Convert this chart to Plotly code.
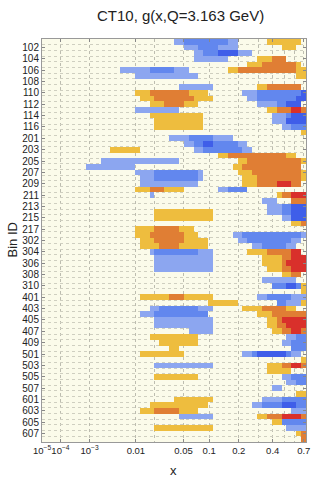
import numpy as np
import plotly.graph_objects as go

# ---------------- data ----------------
title_text = "CT10, g(x,Q=3.163 GeV)"

ids_100 = list(range(101, 118))
ids_200 = list(range(201, 218))
ids_300 = list(range(301, 312))
ids_400 = list(range(401, 411))
ids_500 = list(range(501, 509))
ids_600 = list(range(601, 609))

# x grid: columns uniform in x**0.2
x_min, x_max, n_cols, power = 1e-5, 0.727, 54, 0.2

x_tick_vals = [1e-5, 1e-4, 1e-3, 0.01, 0.05, 0.1, 0.2, 0.4, 0.7]
x_tick_text = ["10<sup>−5</sup>", "10<sup>−4</sup>", "10<sup>−3</sup>", "0.01",
               "0.05", "0.1", "0.2", "0.4", "0.7"]
x_grid_extra = [0.02, 0.3, 0.5, 0.6]

# correlation level runs per bin: (first column, end column, level)
runs_100 = [
    [(27, 29, -1), (29, 38, -2), (38, 40, -1), (46, 53, 1)],                       # 101
    [(29, 32, -1), (32, 36, -2), (36, 40, -1), (49, 52, 1)],                       # 102
    [(31, 33, -1), (33, 36, -2), (36, 40, -3), (40, 43, -1)],                      # 103
    [(31, 38, -1), (44, 47, 1), (47, 50, 2)],                                      # 104
    [(42, 45, 1), (45, 52, 2), (52, 53, 1)],                                       # 105
    [(16, 22, -1), (22, 27, -2), (27, 30, -1), (38, 40, 1), (40, 52, 2), (52, 54, 1)],  # 106
    [(19, 32, -1), (52, 54, 1)],                                                   # 107
    [],                                                                            # 108
    [(28, 35, -1), (44, 46, 1), (46, 53, 2)],                                      # 109
    [(19, 22, 1), (22, 30, 2), (30, 34, 1), (41, 44, -1), (44, 53, -2), (53, 54, -3)],  # 110
    [(20, 23, 1), (23, 31, 2), (31, 35, 1), (42, 44, -1), (44, 52, -2), (52, 54, -3)],  # 111
    [(22, 25, 1), (25, 29, 2), (29, 32, 1), (44, 48, -1), (48, 50, -2), (50, 53, -3)],  # 112
    [(19, 28, -1), (46, 48, 1), (48, 51, 2), (51, 53, 3), (53, 54, 2)],           # 113
    [(22, 33, 1), (47, 50, -1), (50, 51, -2), (51, 54, -3)],                       # 114
    [(23, 33, 1), (47, 50, -1), (50, 54, -3)],                                     # 115
    [(23, 33, 1), (49, 51, -1), (51, 54, -2)],                                     # 116
    [(53, 54, 1)],                                                                 # 117
]
runs_200 = [
    [(26, 30, -1), (30, 35, -2), (35, 39, -1)],                                    # 201
    [(29, 31, -1), (31, 33, -2), (33, 35, -3), (35, 40, -2), (40, 42, -1)],        # 202
    [(14, 20, 1), (31, 33, -1), (33, 41, -2), (41, 43, -1)],                       # 203
    [(36, 38, 1), (38, 50, 2), (50, 52, 1)],                                       # 204
    [(12, 28, -1), (40, 42, 1), (42, 53, 2), (53, 54, 1)],                         # 205
    [(9, 19, -1), (39, 41, 1), (41, 53, 2)],                                       # 206
    [(19, 23, -1), (23, 32, -2), (32, 33, -1), (40, 43, 1), (43, 53, 2), (53, 54, 1)],  # 207
    [(20, 23, -1), (23, 32, -2), (32, 33, -1), (41, 44, 1), (44, 53, 2), (53, 54, 1)],  # 208
    [(20, 32, -1), (41, 44, 1), (44, 48, 2), (48, 51, 3), (51, 53, 2)],           # 209
    [(19, 22, 1), (22, 25, 2), (25, 29, 1), (36, 38, -1), (38, 42, -2)],           # 210
    [(22, 23, -1), (48, 49, 1), (49, 51, 2), (51, 54, 3)],                         # 211
    [(45, 48, -1), (51, 54, 2)],                                                   # 212
    [(46, 49, -1), (49, 51, -2), (51, 54, -3)],                                    # 213
    [(23, 35, 1), (46, 49, -1), (49, 51, -2), (51, 54, -3)],                       # 214
    [(23, 35, 1), (49, 51, -1), (51, 54, -3)],                                     # 215
    [(51, 53, 1), (53, 54, 2)],                                                    # 216
    [(19, 23, 1), (23, 28, 2), (28, 31, 1)],                                       # 217
]
runs_300 = [
    [(19, 22, 1), (22, 29, 2), (29, 32, 1), (39, 41, -1), (41, 53, -2), (53, 54, -1)],  # 301
    [(20, 23, 1), (23, 29, 2), (29, 34, 1), (40, 42, -1), (42, 51, -2), (51, 53, -1)],  # 302
    [(20, 24, 1), (24, 28, 2), (28, 34, 1), (43, 45, -1), (45, 50, -2), (50, 52, -1)],  # 303
    [(22, 23, -1), (23, 32, -2), (32, 35, -1), (42, 46, 1), (46, 51, 2), (51, 53, 3)],  # 304
    [(23, 35, -1), (45, 49, 1), (49, 51, 2), (51, 54, 3)],                         # 305
    [(23, 35, -1), (45, 49, 1), (49, 50, 2), (50, 54, 3)],                         # 306
    [(23, 35, -1), (46, 49, 1), (49, 51, 2), (51, 54, 3)],                         # 307
    [(49, 51, 1), (51, 53, 2)],                                                    # 308
    [(45, 52, -1)],                                                                # 309
    [(47, 50, -2), (50, 52, -3), (52, 53, -2), (53, 54, 1)],                       # 310
    [(53, 54, 1)],                                                                 # 311
]
runs_400 = [
    [(20, 26, 1), (26, 29, 2), (29, 35, 1), (44, 46, -1), (46, 51, -2), (51, 54, -1)],  # 401
    [(34, 40, 1), (48, 50, -2), (50, 53, -1), (53, 54, 1)],                        # 402
    [(22, 24, -1), (24, 32, -2), (32, 35, -1), (41, 45, 1), (45, 50, 2), (50, 52, 1)],  # 403
    [(20, 23, -1), (23, 34, -2), (44, 47, 1), (47, 54, 2)],                        # 404
    [(23, 35, -1), (46, 48, 1), (48, 49, 2), (49, 54, 3)],                         # 405
    [(23, 35, -1), (46, 48, 1), (48, 50, 2), (50, 54, 3)],                         # 406
    [(30, 35, -1), (47, 49, 1), (49, 51, 2), (51, 53, 3), (53, 54, 2)],           # 407
    [(22, 32, 1), (50, 52, -1), (52, 54, -2)],                                     # 408
    [(24, 32, 1), (49, 51, -1), (51, 54, -2)],                                     # 409
    [(26, 28, 1), (51, 54, -2)],                                                   # 410
]
runs_500 = [
    [(20, 29, 1), (41, 43, -1), (43, 44, -2), (44, 50, -3), (50, 51, -2), (51, 53, -1)],  # 501
    [(53, 54, 1)],                                                                 # 502
    [(23, 35, -1), (46, 49, 1), (49, 51, 2), (51, 53, 3), (53, 54, 2)],           # 503
    [(46, 51, 1)],                                                                 # 504
    [(23, 32, 1), (49, 51, -1), (51, 54, -2)],                                     # 505
    [(50, 52, -1), (52, 54, -2)],                                                  # 506
    [(47, 49, -1)],                                                                # 507
    [(52, 54, 1)],                                                                 # 508
]
runs_600 = [
    [(27, 35, 1), (45, 49, -1), (49, 54, -2)],                                     # 601
    [(22, 34, 1), (43, 45, -1), (45, 49, -2), (49, 52, -3), (52, 54, -2)],         # 602
    [(20, 23, 1), (23, 28, 2), (28, 32, 1), (51, 54, -1)],                         # 603
    [(28, 35, -1), (44, 46, 1), (46, 49, 2), (49, 53, 3), (53, 54, 2)],           # 604
    [(47, 49, 1), (49, 54, -2)],                                                   # 605
    [(23, 35, 1), (50, 54, -1)],                                                   # 606
    [(52, 53, 1), (53, 54, 2)],                                                    # 607
    [(53, 54, 2)],                                                                 # 608
]

level_colors = ["#3f5ee9", "#6287ee", "#8ca6f0", "#fbfbea", "#eebd3e", "#e07e34", "#d9302b"]

# ---------------- build ----------------
bin_ids = ids_100 + ids_200 + ids_300 + ids_400 + ids_500 + ids_600
all_runs = runs_100 + runs_200 + runs_300 + runs_400 + runs_500 + runs_600
n_rows = len(bin_ids)

def tr(x):
    return np.power(np.asarray(x, dtype=float), power)

t_edges = np.linspace(tr(x_min), tr(x_max), n_cols + 1)
t_centers = 0.5 * (t_edges[:-1] + t_edges[1:])

z = np.full((n_rows, n_cols), np.nan)
for r, runs in enumerate(all_runs):
    for c0, c1, lv in runs:
        z[r, c0:c1] = lv

nlev = len(level_colors)
colorscale = []
for i, col in enumerate(level_colors):
    colorscale.append([i / nlev, col])
    colorscale.append([(i + 1) / nlev, col])

fig = go.Figure()
fig.add_trace(go.Heatmap(
    x=t_centers, y=list(range(n_rows)), z=z,
    colorscale=colorscale, zmin=-3.5, zmax=3.5,
    showscale=False, hoverinfo="skip",
))

label_rows = [i for i in range(n_rows) if i % 2 == 1]
grid_x = sorted(x_tick_vals[1:] + x_grid_extra)

font_family = "Liberation Sans, Arial, sans-serif"
fig.update_layout(
    width=316, height=480,
    margin=dict(l=42, r=6, t=39, b=38),
    paper_bgcolor="white", plot_bgcolor="#fbfbea",
    font=dict(family=font_family, size=10, color="#222"),
    xaxis=dict(
        range=[tr(x_min), tr(x_max)],
        tickmode="array", tickvals=list(tr(x_tick_vals)), ticktext=x_tick_text,
        tickangle=0,
        ticks="inside", ticklen=3, tickcolor="#888",
        showgrid=False, zeroline=False,
        showline=True, linecolor="#999", linewidth=1, mirror="ticks",
        minor=dict(tickmode="array", tickvals=list(tr(grid_x)), showgrid=True,
                   gridcolor="#bdbdb0", griddash="dot", gridwidth=1, ticks=""),
        tickfont=dict(size=9.5),
    ),
    yaxis=dict(
        range=[n_rows - 0.5, -0.5],
        tickmode="array", tickvals=label_rows,
        ticktext=[str(bin_ids[i]) for i in label_rows],
        ticks="inside", ticklen=3, tickcolor="#888",
        showgrid=False, zeroline=False,
        showline=True, linecolor="#999", linewidth=1, mirror="ticks",
        minor=dict(tickmode="array", tickvals=[i + 0.5 for i in range(n_rows - 1)],
                   showgrid=True, gridcolor="#cfcfc0", griddash="dot", gridwidth=1, ticks=""),
        tickfont=dict(size=10),
    ),
    annotations=[
        dict(text=title_text, xref="paper", yref="paper",
             x=(183 - 42) / 268, y=1 + (39 - 15) / 403, xanchor="center", yanchor="middle",
             showarrow=False, font=dict(size=15, color="#222")),
        dict(text="x", xref="paper", yref="paper",
             x=(175 - 42) / 268, y=-(471 - 442) / 403, xanchor="center", yanchor="middle",
             showarrow=False, font=dict(size=13, color="#222")),
        dict(text="Bin ID", xref="paper", yref="paper", textangle=-90,
             x=-(42 - 12) / 268, y=(442 - 240) / 403, xanchor="center", yanchor="middle",
             showarrow=False, font=dict(size=13, color="#222")),
    ],
)

fig.write_html("out.html", config={"displayModeBar": False},
               post_script="document.body.style.margin='0';document.body.style.padding='0';")
